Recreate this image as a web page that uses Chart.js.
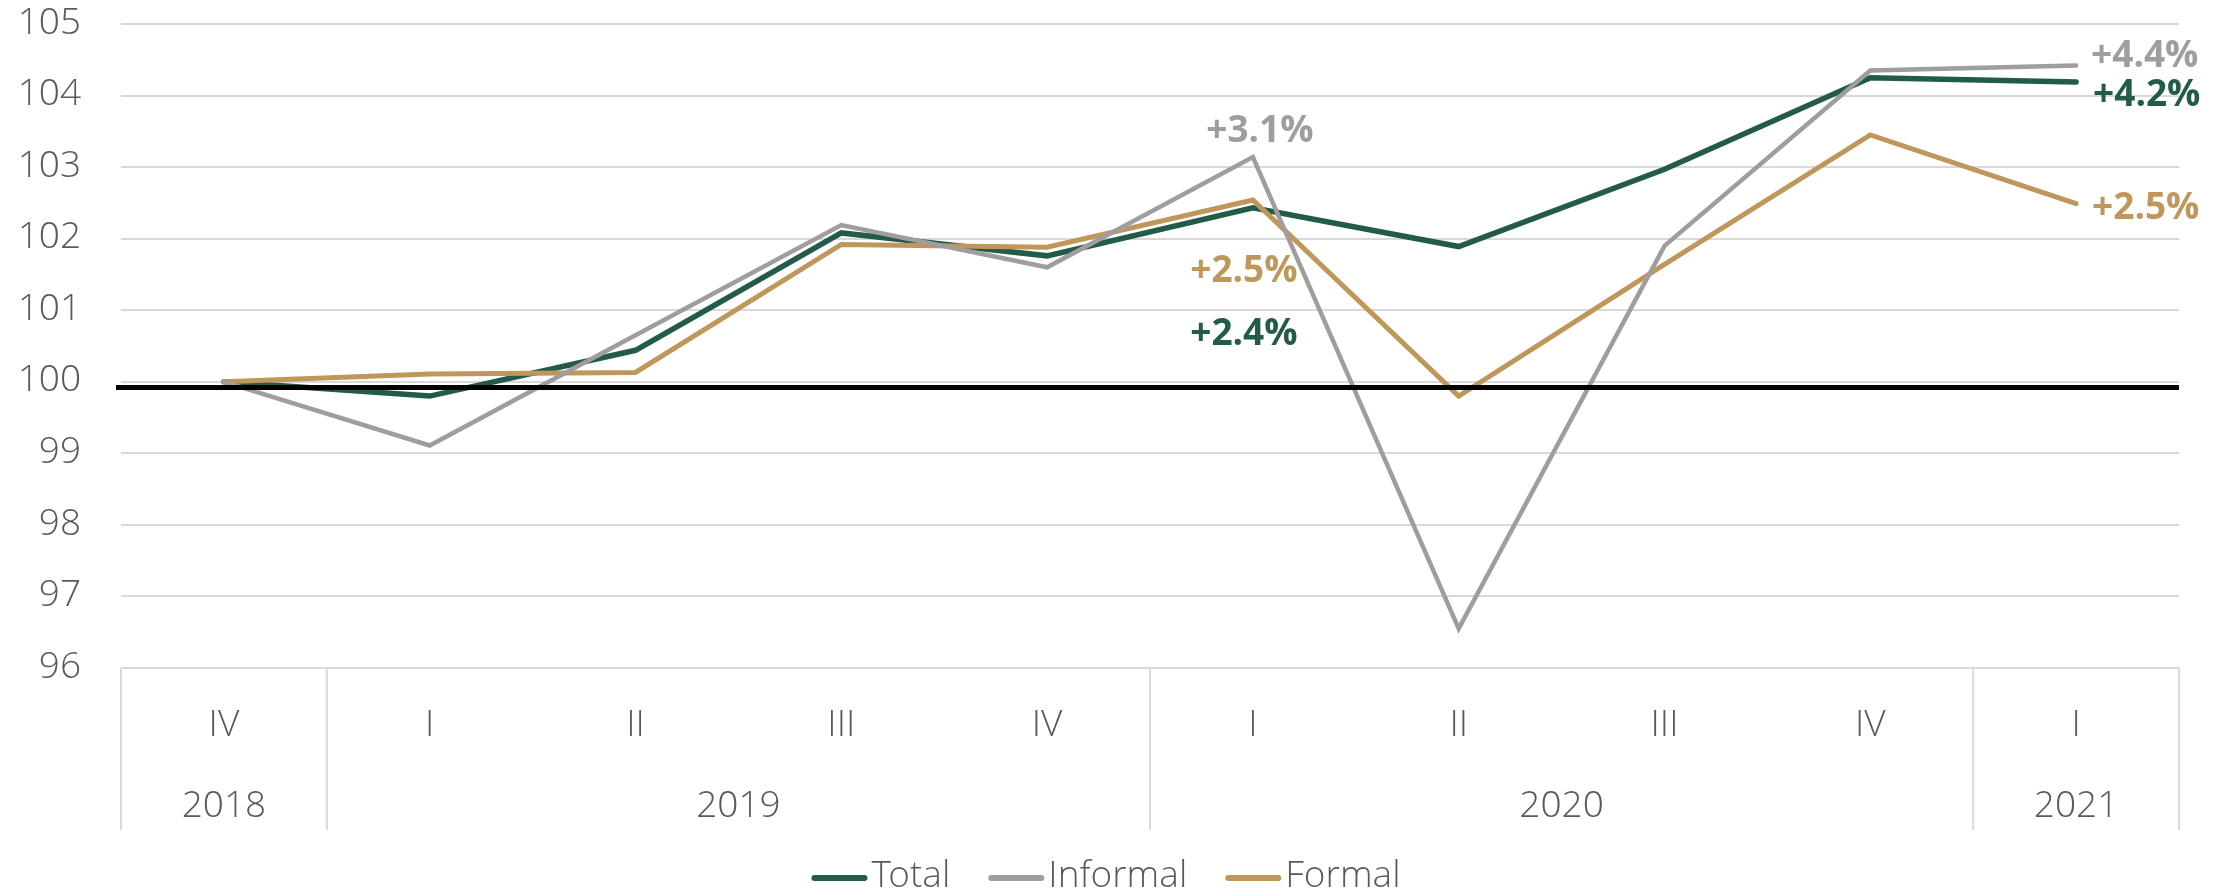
<!DOCTYPE html>
<html><head><meta charset="utf-8">
<script src="https://cdn.jsdelivr.net/npm/chart.js@4.4.1/dist/chart.umd.min.js"></script>
<style>html,body{margin:0;padding:0;background:#fff}#wrap{width:2232px;height:896px}</style>
</head><body><div id="wrap"><canvas id="c" width="2232" height="896"></canvas></div>
<script>
// ---- data ----
const quarters = ['IV','I','II','III','IV','I','II','III','IV','I'];
const years = ['2018','2019','2020','2021'];
const yearSpans = [1,4,4,1];
const seriesNames = ['Total','Informal','Formal'];
const totalValues    = [100.00, 99.80, 100.44, 102.08, 101.76, 102.43, 101.89, 102.97, 104.25, 104.19];
const informalValues = [100.00, 99.11, 100.65, 102.19, 101.60, 103.14,  96.55, 101.90, 104.35, 104.42];
const formalValues   = [100.00,100.11, 100.13, 101.92, 101.88, 102.54,  99.80, 101.64, 103.45, 102.49];
const yTicks = [96,97,98,99,100,101,102,103,104,105];
const baselineValue = 99.92;
const labelSeries = [1, 2, 0, 1, 0, 2];
const labelIndex  = [5, 5, 5, 9, 9, 9];
const labelTexts  = ['+3.1%','+2.5%','+2.4%','+4.4%','+4.2%','+2.5%'];

// ---- styles ----
const colors = ['#225b4a', '#9f9d9d', '#c0975b'];
const widths = [5.5, 4.5, 5];
const labelOffsets = [[7,-26,'center'],[-9,71,'center'],[-9,127,'center'],[15,-9,'left'],[17,13,'left'],[16,5,'left']];
const tickFamily = "'Open Sans Light', 'Open Sans', sans-serif";
const tickFont = "300 37px " + tickFamily;
const boldFont = "bold 37px 'Open Sans', sans-serif";
const textColor = '#595959';
const gridColor = '#d9d9d9';

const seriesValues = [totalValues, informalValues, formalValues];
const datasets = seriesNames.map((name, i) => ({
  label: name,
  data: seriesValues[i],
  borderColor: colors[i],
  backgroundColor: colors[i],
  borderWidth: widths[i],
  pointRadius: 0,
  tension: 0,
  fill: false,
  borderCapStyle: 'round',
  borderJoinStyle: 'miter',
  order: [3, 1, 2][i]
}));

const baselinePlugin = {
  id: 'baseline',
  afterDatasetsDraw(chart) {
    const {ctx, chartArea, scales} = chart;
    const y = scales.y.getPixelForValue(baselineValue);
    ctx.save();
    ctx.strokeStyle = '#000';
    ctx.lineWidth = 5;
    ctx.beginPath();
    ctx.moveTo(chartArea.left - 5, y);
    ctx.lineTo(chartArea.right, y);
    ctx.stroke();
    ctx.restore();
  }
};

const labelsPlugin = {
  id: 'seriesLabels',
  afterDatasetsDraw(chart) {
    const {ctx, scales} = chart;
    ctx.save();
    ctx.font = boldFont;
    ctx.textBaseline = 'middle';
    labelTexts.forEach((t, k) => {
      const s = labelSeries[k], idx = labelIndex[k];
      const px = scales.x.getPixelForValue(idx);
      const py = scales.y.getPixelForValue(seriesValues[s][idx]);
      const [dx, dy, al] = labelOffsets[k];
      ctx.fillStyle = colors[s];
      ctx.textAlign = al;
      ctx.fillText(t, px + dx, py + dy);
    });
    ctx.restore();
  }
};

const xDecorPlugin = {
  id: 'xDecor',
  afterDraw(chart) {
    const {ctx, chartArea, scales} = chart;
    const x = scales.x;
    const n = quarters.length;
    const boundary = i => i === 0 ? chartArea.left : (i === n ? chartArea.right : (x.getPixelForValue(i - 1) + x.getPixelForValue(i)) / 2);
    const top = chartArea.bottom, bottom = chartArea.bottom + 162;
    ctx.save();
    ctx.strokeStyle = gridColor;
    ctx.lineWidth = 2;
    let start = 0;
    const bounds = [0];
    yearSpans.forEach(s => { start += s; bounds.push(start); });
    bounds.forEach(b => {
      const bx = boundary(b);
      ctx.beginPath(); ctx.moveTo(bx, top); ctx.lineTo(bx, bottom); ctx.stroke();
    });
    ctx.font = tickFont;
    ctx.fillStyle = textColor;
    ctx.textAlign = 'center';
    ctx.textBaseline = 'middle';
    years.forEach((yr, k) => {
      const cx = (boundary(bounds[k]) + boundary(bounds[k + 1])) / 2;
      ctx.fillText(yr, cx, chartArea.bottom + 139);
    });
    ctx.restore();
  }
};

const legendPlugin = {
  id: 'customLegend',
  afterDraw(chart) {
    const {ctx} = chart;
    ctx.save();
    ctx.font = tickFont;
    const sw = 56, gap = 4, itemGap = 38;
    const items = chart.data.datasets.map(d => ({label: d.label, color: d.borderColor, w: ctx.measureText(d.label).width}));
    const total = items.reduce((a, it) => a + sw + gap + it.w, 0) + itemGap * (items.length - 1);
    let xx = chart.width / 2 - 10 - total / 2;
    const yy = 877;
    items.forEach(it => {
      ctx.strokeStyle = it.color;
      ctx.lineWidth = 6;
      ctx.lineCap = 'round';
      ctx.beginPath(); ctx.moveTo(xx + 3, yy + 1); ctx.lineTo(xx + sw - 3, yy + 1); ctx.stroke();
      ctx.fillStyle = textColor;
      ctx.textAlign = 'left';
      ctx.textBaseline = 'middle';
      ctx.fillText(it.label, xx + sw + gap, yy);
      xx += sw + gap + it.w + itemGap;
    });
    ctx.restore();
  }
};

new Chart(document.getElementById('c'), {
  type: 'line',
  data: { labels: quarters, datasets },
  options: {
    responsive: false,
    animation: false,
    devicePixelRatio: 1,
    layout: { padding: { left: 0, right: 53, top: 24, bottom: 66 } },
    plugins: { legend: { display: false }, tooltip: { enabled: false } },
    scales: {
      x: {
        offset: true,
        grid: { display: false, drawTicks: false },
        border: { display: false },
        ticks: { color: textColor, font: { family: tickFamily, size: 37, weight: 300 }, padding: 36, maxRotation: 0, autoSkip: false },
        afterFit(s) { s.height = 162; s.paddingLeft = 0; s.paddingRight = 0; }
      },
      y: {
        min: 96, max: 105,
        afterBuildTicks(s) { s.ticks = yTicks.map(v => ({value: v})); },
        grid: { color: gridColor, lineWidth: 2, drawTicks: false },
        border: { display: false },
        ticks: { color: textColor, font: { family: tickFamily, size: 37, weight: 300 }, padding: 40 },
        afterFit(s) { s.width = 121; s.paddingTop = 22; s.paddingBottom = 0; }
      }
    }
  },
  plugins: [baselinePlugin, labelsPlugin, xDecorPlugin, legendPlugin]
});
</script>
</body></html>
